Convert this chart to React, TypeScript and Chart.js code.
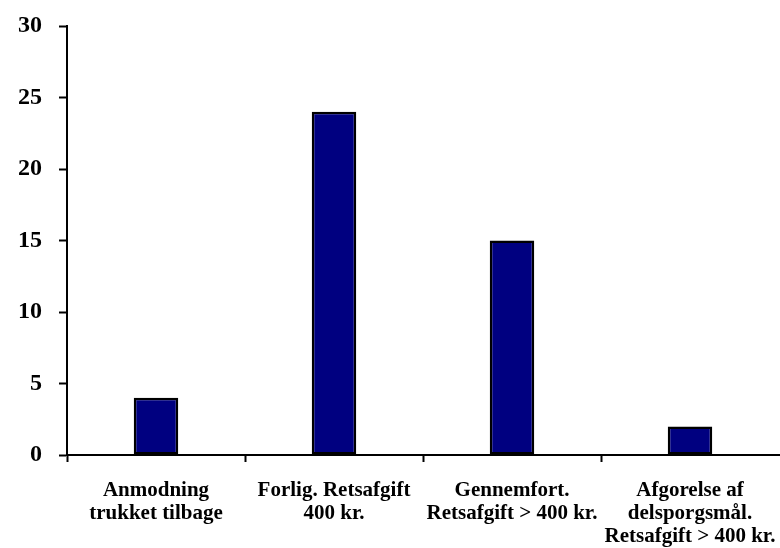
import React, { useEffect, useRef } from "react";
import { Chart, registerables } from "chart.js";

Chart.register(...registerables);

// Number of cases per outcome
const categories: string[][] = [
  ["Anmodning", "trukket tilbage"],
  ["Forlig. Retsafgift", "400 kr."],
  ["Gennemfort.", "Retsafgift > 400 kr."],
  ["Afgorelse af", "delsporgsmål.", "Retsafgift > 400 kr."],
];
const counts: number[] = [4, 24, 15, 2];
const yTicks = { min: 0, max: 30, step: 5 };

const serif = "'Liberation Serif', 'Times New Roman', serif";

export default function App() {
  const canvasRef = useRef<HTMLCanvasElement | null>(null);

  useEffect(() => {
    const canvas = canvasRef.current;
    if (!canvas) return;
    const chart = new Chart(canvas, {
      type: "bar",
      data: {
        labels: categories,
        datasets: [
          {
            data: counts,
            backgroundColor: "#000080",
            borderColor: "#000000",
            borderWidth: 2.5,
            borderSkipped: false,
            categoryPercentage: 1,
            barPercentage: 0.25,
          },
        ],
      },
      options: {
        responsive: false,
        animation: false,
        layout: { padding: { top: 26, right: 1, left: 0, bottom: 0 } },
        plugins: {
          legend: { display: false },
          tooltip: { enabled: false },
        },
        scales: {
          x: {
            grid: {
              display: true,
              drawOnChartArea: false,
              drawTicks: true,
              tickLength: 7,
              tickWidth: 2,
              // no tick mark at the far right end of the axis
              tickColor: (ctx: any) => (ctx.type === "tick" ? "#000" : "rgba(0,0,0,0)"),
              offset: true,
            },
            border: { display: true, color: "#000", width: 2 },
            ticks: {
              color: "#000",
              padding: 17,
              maxRotation: 0,
              autoSkip: false,
              font: { family: serif, size: 21, weight: "bold", lineHeight: "23px" },
            },
            afterFit: (scale: any) => {
              scale.height = 93;
              scale.paddingLeft = 0;
              scale.paddingRight = 0;
            },
          },
          y: {
            min: yTicks.min,
            max: yTicks.max,
            grid: {
              display: true,
              drawOnChartArea: false,
              drawTicks: true,
              tickLength: 8,
              tickWidth: 2,
              tickColor: "#000",
            },
            border: { display: true, color: "#000", width: 2 },
            ticks: {
              stepSize: yTicks.step,
              color: "#000",
              padding: 17,
              font: { family: serif, size: 24, weight: "bold" },
            },
            afterFit: (scale: any) => {
              scale.width = 67;
              scale.paddingTop = 0;
              scale.paddingBottom = 0;
            },
          },
        },
      },
    });
    return () => chart.destroy();
  }, []);

  return (
    <div style={{ position: "absolute", left: 0, top: 0, width: 780, height: 548, background: "#fff" }}>
      <canvas ref={canvasRef} width={780} height={548} />
    </div>
  );
}
